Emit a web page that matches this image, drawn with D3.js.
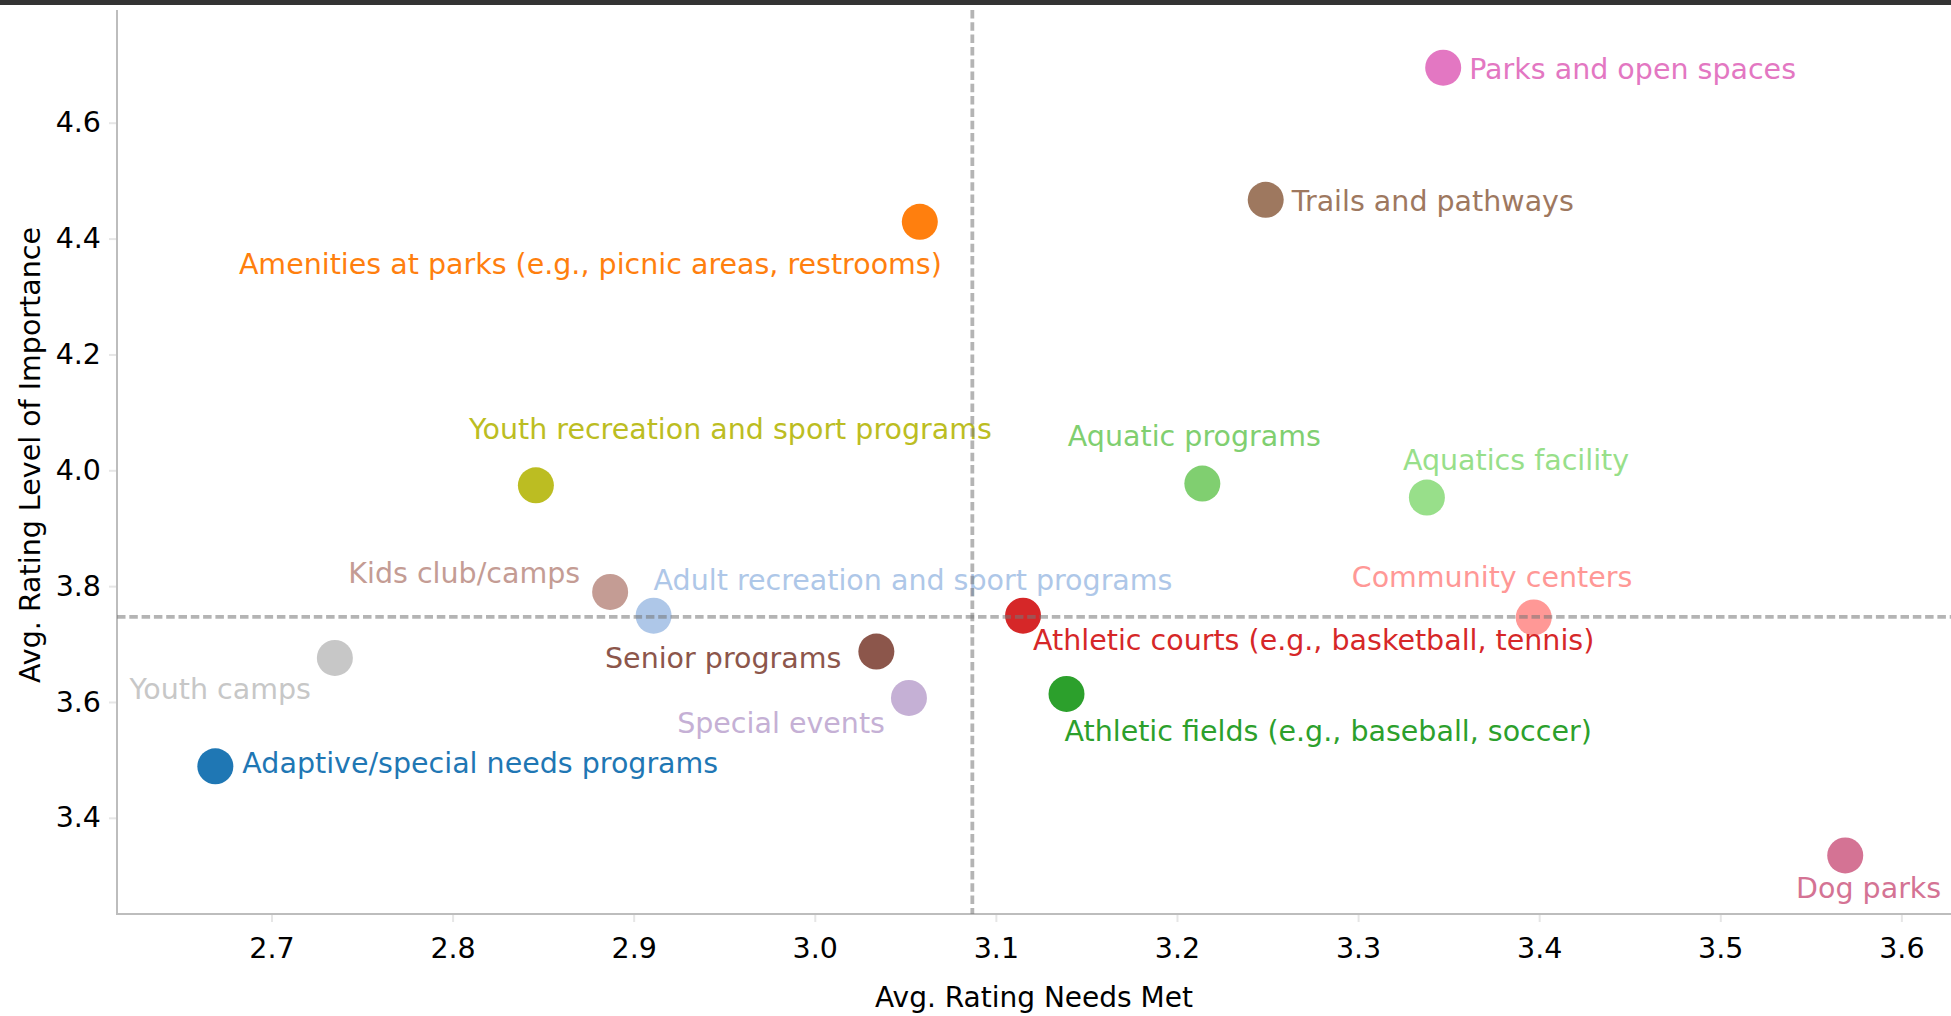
<!DOCTYPE html>
<html>
<head>
<meta charset="utf-8">
<script src="https://cdn.jsdelivr.net/npm/d3@7"></script>
<style>
  html, body { margin: 0; padding: 0; background: #ffffff; }
  svg { display: block; }
  text { font-family: "DejaVu Sans", Verdana, sans-serif; }
</style>
</head>
<body>
<script>
// ---------------- data ----------------
const categories = [
  "Parks and open spaces",
  "Trails and pathways",
  "Amenities at parks (e.g., picnic areas, restrooms)",
  "Youth recreation and sport programs",
  "Aquatic programs",
  "Aquatics facility",
  "Community centers",
  "Athletic courts (e.g., basketball, tennis)",
  "Athletic fields (e.g., baseball, soccer)",
  "Kids club/camps",
  "Adult recreation and sport programs",
  "Youth camps",
  "Senior programs",
  "Special events",
  "Adaptive/special needs programs",
  "Dog parks"
];
const needsMet   = [3.347, 3.249, 3.058, 2.846, 3.214, 3.338, 3.397, 3.115, 3.139, 2.887, 2.911, 2.735, 3.034, 3.052, 2.669, 3.569];
const importance = [4.695, 4.467, 4.429, 3.974, 3.977, 3.953, 3.746, 3.749, 3.614, 3.790, 3.749, 3.676, 3.687, 3.607, 3.489, 3.335];
const refNeedsMet = 3.087;
const refImportance = 3.747;
const xTicks = [2.7, 2.8, 2.9, 3.0, 3.1, 3.2, 3.3, 3.4, 3.5, 3.6];
const yTicks = [3.4, 3.6, 3.8, 4.0, 4.2, 4.4, 4.6];
const xTitle = "Avg. Rating Needs Met";
const yTitle = "Avg. Rating Level of Importance";

// ---------------- styles / layout ----------------
const colors = ["#e377c2", "#9e785f", "#ff7f0e", "#bcbd22", "#80cf70", "#98df8a", "#ff9896", "#d62728",
                "#2ca02c", "#c49c94", "#aec7e8", "#c7c7c7", "#8c564b", "#c5b0d5", "#1f77b4", "#d47394"];
const labelLayout = [
  ["start", 26, 11], ["start", 26, 11], ["end", 22, 52], ["start", -67, -46],
  ["middle", -8, -38], ["start", -24, -28], ["start", -182, -30], ["start", 10, 34],
  ["start", -2, 47], ["end", -30, -9], ["start", 0, -26], ["end", -24, 41],
  ["end", -35, 16], ["end", -24, 35], ["start", 27, 7], ["end", 96, 43]
];

const W = 1951, H = 1016;
const plot = { left: 117, right: 1951, top: 10, bottom: 914 };
const FS = 28.5;
const FONT = '"DejaVu Sans", Verdana, sans-serif';

const svg = d3.select("body").append("svg").attr("width", W).attr("height", H);

svg.append("rect").attr("x", 0).attr("y", 0).attr("width", W).attr("height", 5).attr("fill", "#333333");

const x = d3.scaleLinear().domain([2.6147, 3.6274]).range([plot.left, plot.right]);
const y = d3.scaleLinear().domain([3.234, 4.7946]).range([plot.bottom, plot.top]);

// axes
const xAxis = svg.append("g").attr("transform", `translate(0,${plot.bottom})`)
  .call(d3.axisBottom(x).tickValues(xTicks).tickFormat(d3.format(".1f")).tickSize(8).tickPadding(16));
const yAxis = svg.append("g").attr("transform", `translate(${plot.left},0)`)
  .call(d3.axisLeft(y).tickValues(yTicks).tickFormat(d3.format(".1f")).tickSize(8).tickPadding(8));
[xAxis, yAxis].forEach(g => {
  g.select(".domain").remove();
  g.selectAll(".tick line").attr("stroke", "#e6e6e6").attr("stroke-width", 2);
  g.selectAll(".tick text").attr("fill", "#000").style("font-size", FS + "px").style("font-family", FONT);
});

// spines
svg.append("line").attr("x1", plot.left).attr("x2", plot.left).attr("y1", plot.top).attr("y2", plot.bottom + 1)
  .attr("stroke", "#bdbdbd").attr("stroke-width", 2);
svg.append("line").attr("x1", plot.left).attr("x2", plot.right).attr("y1", plot.bottom).attr("y2", plot.bottom)
  .attr("stroke", "#bdbdbd").attr("stroke-width", 2);

// axis titles
svg.append("text").attr("x", (plot.left + plot.right) / 2).attr("y", 1007)
  .attr("text-anchor", "middle").style("font-size", "28px").attr("fill", "#000").text(xTitle);
svg.append("text").attr("transform", `translate(40,${(plot.top + plot.bottom) / 2 - 7}) rotate(-90)`)
  .attr("text-anchor", "middle").style("font-size", FS + "px").attr("fill", "#000").text(yTitle);

const idx = d3.range(categories.length);

// points
svg.append("g").selectAll("circle").data(idx).join("circle")
  .attr("cx", i => x(needsMet[i])).attr("cy", i => y(importance[i]))
  .attr("r", 18).attr("fill", i => colors[i]);

// labels
svg.append("g").selectAll("text").data(idx).join("text")
  .attr("x", i => x(needsMet[i]) + labelLayout[i][1])
  .attr("y", i => y(importance[i]) + labelLayout[i][2])
  .attr("text-anchor", i => labelLayout[i][0])
  .style("font-size", FS + "px")
  .attr("fill", i => colors[i])
  .text(i => categories[i]);

// reference lines
const refStyle = sel => sel.attr("stroke", "#777777").attr("stroke-opacity", 0.55)
  .attr("stroke-width", 3.8).attr("stroke-dasharray", "8.5,3.8");
svg.append("line").attr("x1", x(refNeedsMet)).attr("x2", x(refNeedsMet)).attr("y1", plot.top).attr("y2", plot.bottom)
  .call(refStyle);
svg.append("line").attr("x1", plot.left).attr("x2", plot.right).attr("y1", y(refImportance)).attr("y2", y(refImportance))
  .call(refStyle);
</script>
</body>
</html>
